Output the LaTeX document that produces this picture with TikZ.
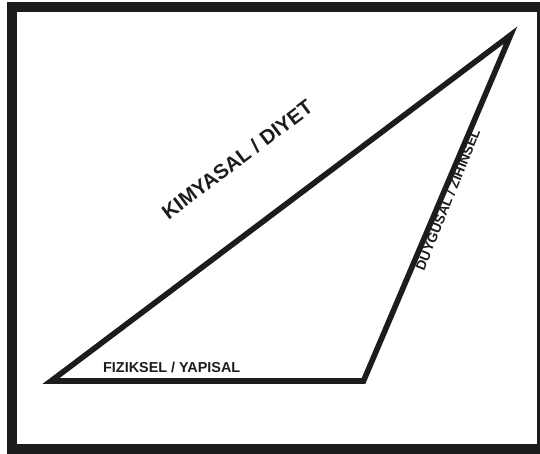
\documentclass[tikz,border=0pt]{standalone}
\usepackage{fontspec}
\setmainfont{Liberation Sans}
\usetikzlibrary{calc}
\definecolor{inkdark}{HTML}{1C1C1C}
\tikzstyle{frame} = [line width=10pt, draw=inkdark]
\tikzstyle{side} = [line width=5.6pt, draw=inkdark, line join=miter]
\tikzstyle{label} = [inner sep=0pt, text=inkdark, font=\bfseries]

\begin{document}
\begin{tikzpicture}[x=1pt, y=-1pt]
    \useasboundingbox (0,0) rectangle (540,454);
    \clip (0,0) rectangle (540,454);
    \draw[frame] (12,6.8) rectangle (542,448.6);
    % corners of the triangle
    \coordinate (left) at (51,381);
    \coordinate (right) at (363.5,381);
    \coordinate (top) at (510.6,35.1);
    \draw[side] (left) -- (right) -- (top) -- cycle;
    \node (fiz)[label, font=\bfseries\fontsize{14.4}{16}\selectfont, anchor=base] at (171.7,372.3) {FIZIKSEL / YAPISAL};
    \node (kim)[label, font=\bfseries\fontsize{20.5}{24}\selectfont, rotate=37] at ($(left)!0.49!(top)+(-39,-52)$) {KIMYASAL / DIYET};
    \node (duy)[label, font=\bfseries\fontsize{13.7}{16}\selectfont, rotate=68] at (447.8,199.5) {DUYGUSAL / ZIHINSEL};
\end{tikzpicture}
\end{document}
